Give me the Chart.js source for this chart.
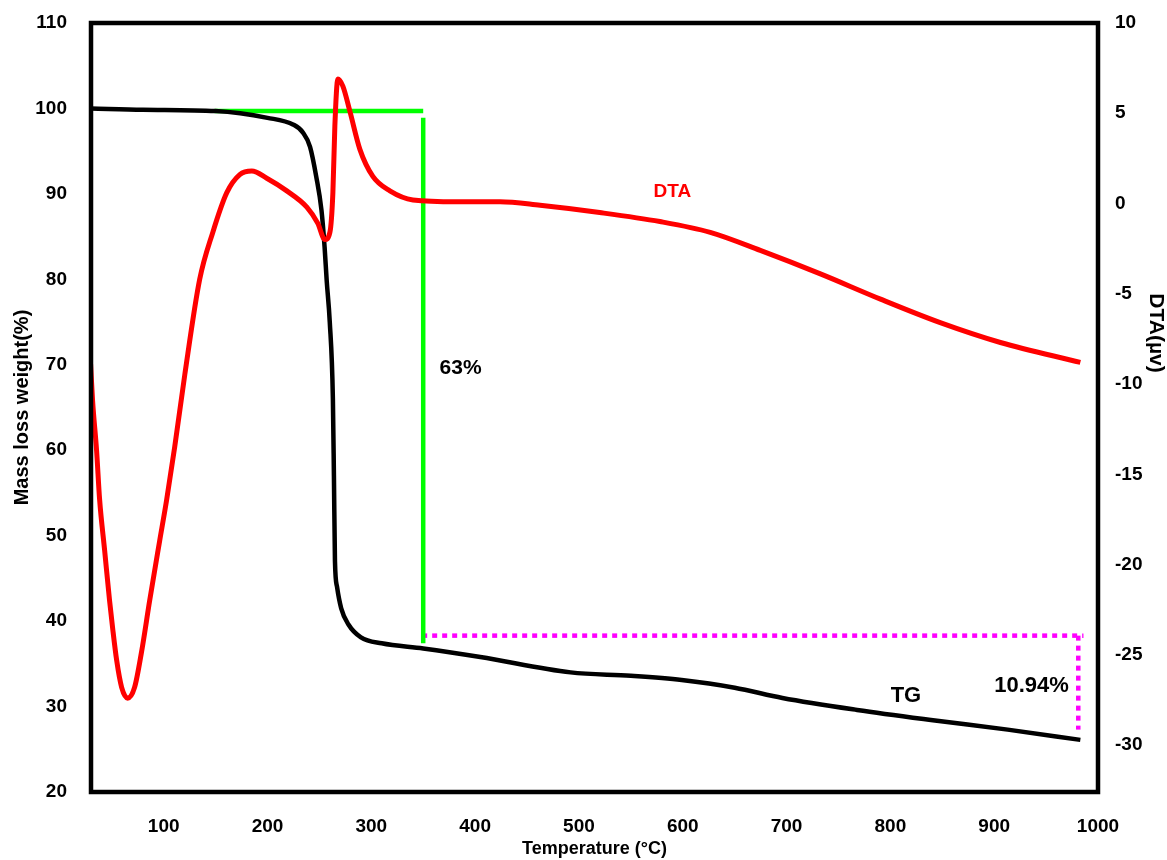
<!DOCTYPE html>
<html>
<head>
<meta charset="utf-8">
<title>TG / DTA</title>
<script src="https://cdn.jsdelivr.net/npm/chart.js@4.4.1/dist/chart.umd.min.js"></script>
<style>
  body { margin: 0; background: #fff; }
  canvas { display: block; }
</style>
</head>
<body>
<canvas id="tgChart" width="1167" height="860"></canvas>
<script>
// TG curve (mass %, left axis)
var tgTemp = [30, 80, 150, 200, 225, 234, 241, 247, 252, 255, 257, 260, 263, 264, 265, 267, 271, 278, 290, 310, 350, 405, 492, 550, 599, 650, 696, 768, 841, 913, 983];
var tgMass = [100.0, 99.85, 99.7, 98.9, 98.1, 97.2, 95.5, 92.0, 88.1, 83.8, 79.9, 75.0, 66.0, 57.0, 47.0, 44.0, 41.5, 39.6, 38.1, 37.4, 36.8, 35.8, 34.0, 33.6, 33.1, 32.2, 31.0, 29.6, 28.4, 27.3, 26.1];

// DTA curve (µv, right axis)
var dtaTemp = [29.6, 31.5, 35.4, 38.3, 43.1, 47.9, 50.8, 54.7, 59.5, 65.3, 72, 78.8, 86.5, 96.1, 102.9, 110.6, 120.3, 134.7, 147.3, 160.8, 173.3, 184.9, 199.3, 218.6, 237.9, 248.5, 255.3, 260.1, 263, 264.9, 267.8, 272.6, 279.4, 289, 301.5, 317.9, 340.1, 382.5, 424, 462.6, 520, 578, 626.5, 674.7, 732.6, 790.5, 848, 906, 983];
var dtaSignal = [-8.9, -10.9, -13.7, -16.4, -19.2, -22.0, -23.5, -25.3, -26.8, -27.4, -26.8, -24.8, -22.0, -18.7, -16.4, -13.5, -9.5, -4.2, -1.6, 0.6, 1.6, 1.8, 1.4, 0.7, -0.2, -1.1, -2.0, -1.6, 0.6, 4.3, 6.9, 6.5, 5.1, 3.0, 1.5, 0.7, 0.2, 0.1, 0.1, -0.1, -0.5, -1.0, -1.6, -2.6, -3.9, -5.3, -6.6, -7.7, -8.8];

// step markers
var stepTopTemp = [149, 350];
var stepTopMass = [99.7, 99.7];
var stepDropTemp = [350, 350];
var stepDropMass = [98.9, 37.4];
var residueTemp = [349, 986];
var residueMass = [38.3, 38.3];
var residueDropTemp = [981, 981];
var residueDropMass = [38.3, 27.3];

// axis ticks
var xTicks = [100, 200, 300, 400, 500, 600, 700, 800, 900, 1000];
var massTicks = [20, 30, 40, 50, 60, 70, 80, 90, 100, 110];
var dtaTicks = [10, 5, 0, -5, -10, -15, -20, -25, -30];

// text labels: [text, x, y, axis, colour, size]
var notes = [
    ['63%', 386, 69.6, 'y', '#000', 21],
    ['DTA', 590, 0.65, 'y2', '#ff0000', 19],
    ['TG', 815, 31.3, 'y', '#000', 22],
    ['10.94%', 936, 32.4, 'y', '#000', 22]
];

var FONT = "'Liberation Sans', Arial, sans-serif";

function pairs(xs, ys){
    return xs.map(function(x, i){ return {x: x, y: ys[i]}; });
}

function fixedTicks(list){
    return function(scale){
        scale.ticks = list.map(function(v){ return {value: v}; });
    };
}

function plainLabel(v){
    return String(v);
}

// fixed box sizes so the plot frame lands where it should
function sideWidth(w){
    return function(s){
        s.width = w;
        s.paddingTop = 0;
        s.paddingBottom = 0;
    };
}

function markLine(xs, ys, colour, dash){
    return {
        data: pairs(xs, ys),
        borderColor: colour,
        borderWidth: 4.5,
        borderDash: dash || [],
        borderCapStyle: 'butt',
        pointRadius: 0,
        yAxisID: 'y',
        tension: 0
    };
}

var frameAndNotes = {
    id: 'frameAndNotes',
    afterDatasetsDraw: function(chart){
        var ctx = chart.ctx;
        var a = chart.chartArea;
        ctx.save();
        ctx.strokeStyle = '#000';
        ctx.lineWidth = 4.5;
        ctx.strokeRect(a.left, a.top, a.right - a.left, a.bottom - a.top);

        ctx.textAlign = 'center';
        ctx.textBaseline = 'middle';
        notes.forEach(function(n){
            ctx.font = 'bold ' + n[5] + 'px ' + FONT;
            ctx.fillStyle = n[4];
            ctx.fillText(n[0], chart.scales.x.getPixelForValue(n[1]), chart.scales[n[3]].getPixelForValue(n[2]));
        });

        // right axis title
        ctx.translate(1156, 333);
        ctx.rotate(Math.PI / 2);
        ctx.font = 'bold 21px ' + FONT;
        ctx.fillStyle = '#000';
        ctx.fillText('DTA(µv)', 0, 0);
        ctx.restore();
    }
};

var tickFont = {family: FONT, size: 19, weight: 'bold'};

new Chart(document.getElementById('tgChart'), {
    type: 'line',
    data: {
        datasets: [
            {
                label: 'DTA',
                data: pairs(dtaTemp, dtaSignal),
                borderColor: '#ff0000',
                borderWidth: 5,
                pointRadius: 0,
                yAxisID: 'y2',
                cubicInterpolationMode: 'monotone'
            },
            {
                label: 'TG',
                data: pairs(tgTemp, tgMass),
                borderColor: '#000000',
                borderWidth: 4.5,
                pointRadius: 0,
                yAxisID: 'y',
                cubicInterpolationMode: 'monotone'
            },
            markLine(stepTopTemp, stepTopMass, '#00ff00'),
            markLine(stepDropTemp, stepDropMass, '#00ff00'),
            markLine(residueTemp, residueMass, '#ff00ff', [5, 5]),
            markLine(residueDropTemp, residueDropMass, '#ff00ff', [5, 5])
        ]
    },
    options: {
        responsive: false,
        animation: false,
        layout: {padding: {top: 23, left: 0, right: 0, bottom: 0}},
        plugins: {legend: {display: false}, tooltip: {enabled: false}},
        scales: {
            x: {
                type: 'linear',
                min: 30,
                max: 1000,
                afterBuildTicks: fixedTicks(xTicks),
                afterFit: function(s){ s.height = 68; s.paddingLeft = 0; s.paddingRight = 0; },
                grid: {display: false, drawTicks: false},
                border: {display: false},
                ticks: {font: tickFont, color: '#000', padding: 23, maxRotation: 0, callback: plainLabel},
                title: {display: true, text: 'Temperature (°C)', color: '#000', font: {family: FONT, size: 18, weight: 'bold'}, padding: {top: 0, bottom: 0}}
            },
            y: {
                position: 'left',
                min: 20,
                max: 110,
                afterBuildTicks: fixedTicks(massTicks),
                afterFit: sideWidth(91),
                grid: {display: false, drawTicks: false},
                border: {display: false},
                ticks: {font: tickFont, color: '#000', padding: 24, callback: plainLabel},
                title: {display: true, text: 'Mass loss weight(%)', color: '#000', font: {family: FONT, size: 20, weight: 'bold'}, padding: {top: 10, bottom: 0}}
            },
            y2: {
                position: 'right',
                min: -32.6,
                max: 10,
                afterBuildTicks: fixedTicks(dtaTicks),
                afterFit: sideWidth(69),
                grid: {display: false, drawTicks: false},
                border: {display: false},
                ticks: {font: tickFont, color: '#000', padding: 17, callback: plainLabel}
            }
        }
    },
    plugins: [frameAndNotes]
});
</script>
</body>
</html>
